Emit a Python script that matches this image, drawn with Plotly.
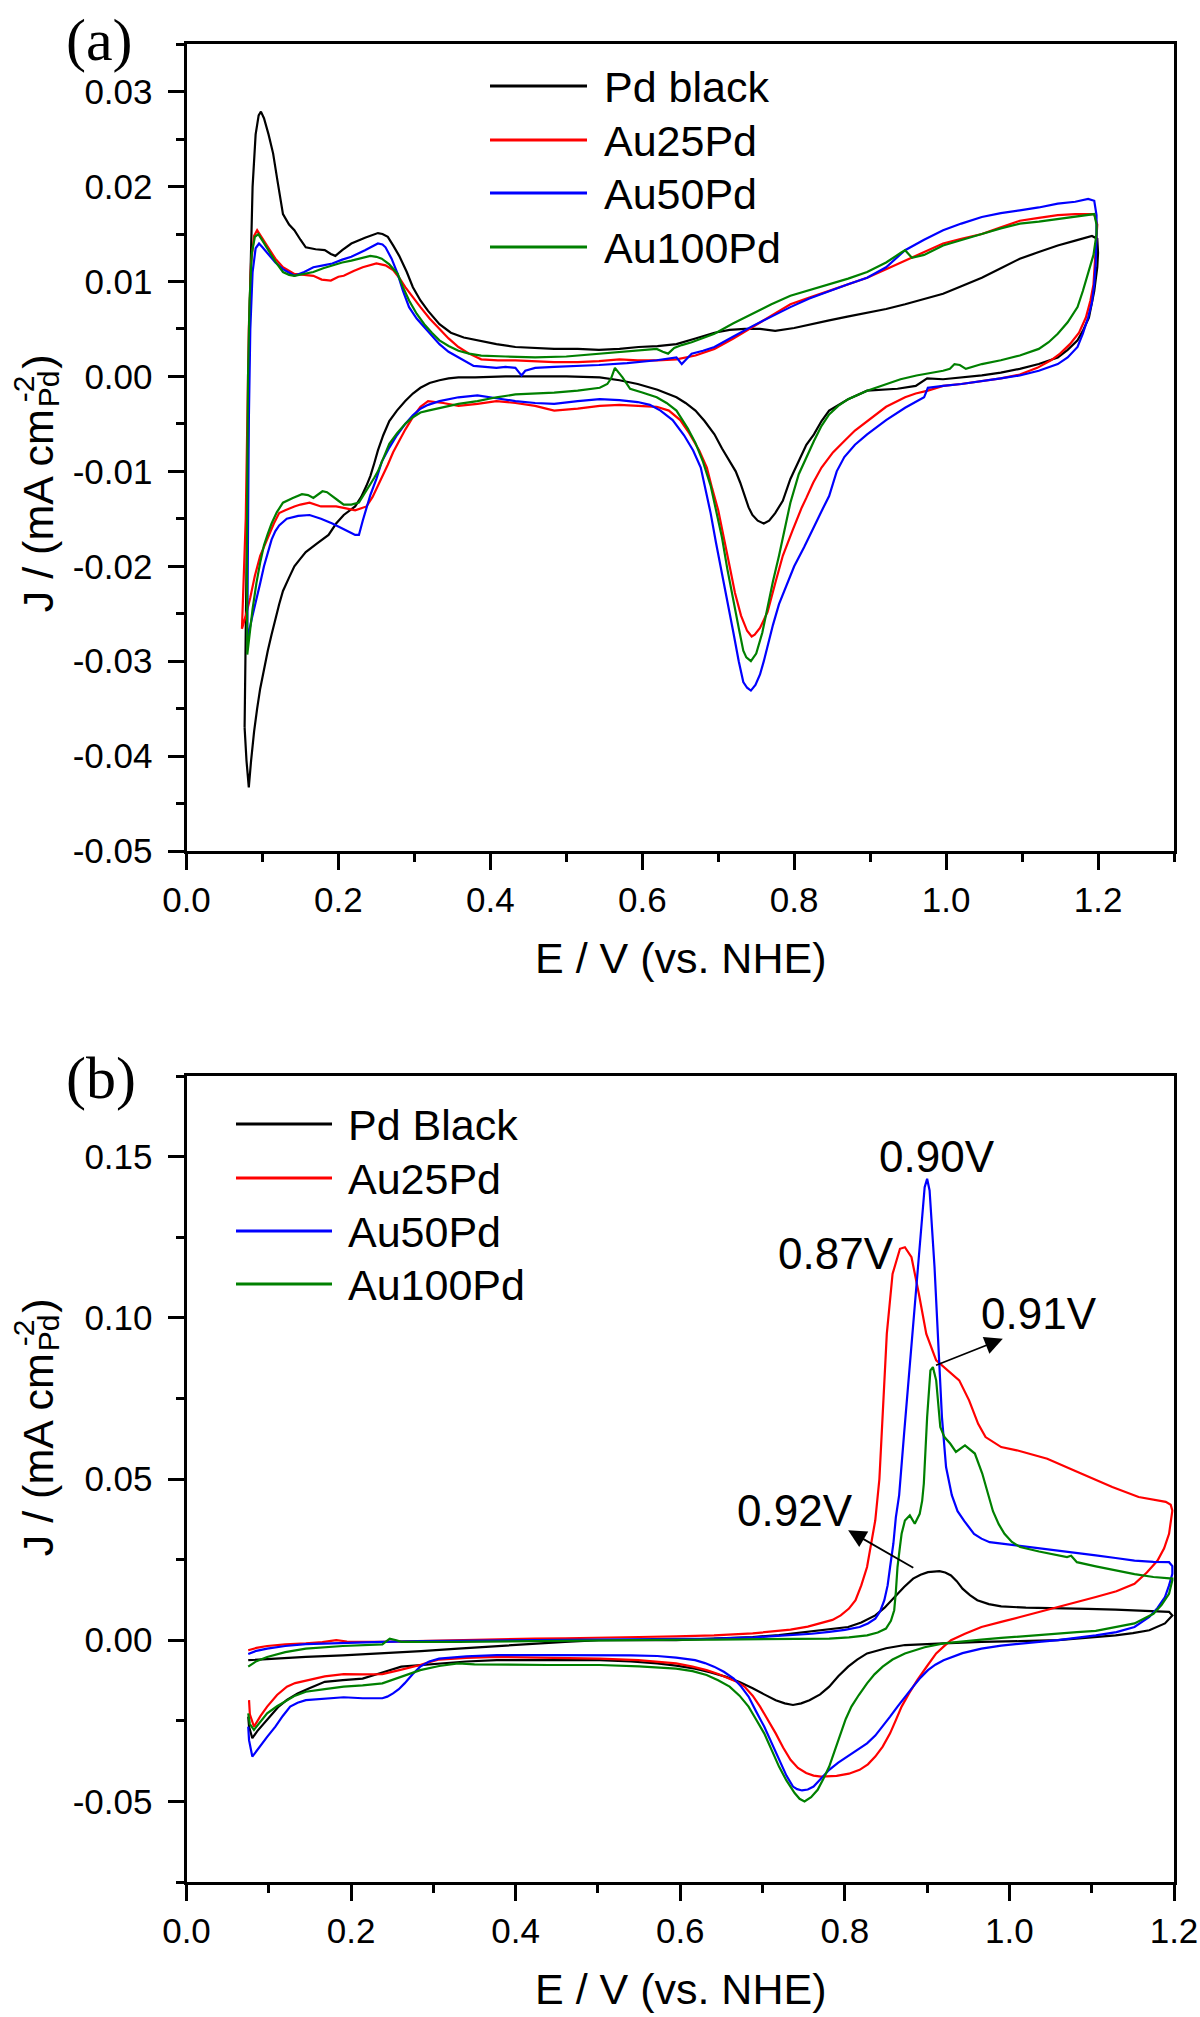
import plotly.graph_objects as go

# ---------------- data: panel (a) ----------------
a_pdblack = [
    (0.0765, -0.037), (0.078, -0.025), (0.080, -0.010), (0.082, 0.000), (0.084, 0.010), (0.087, 0.020),
    (0.091, 0.0255), (0.095, 0.0275), (0.098, 0.0279), (0.102, 0.0272), (0.108, 0.0255), (0.114, 0.0235),
    (0.120, 0.0205), (0.127, 0.0171), (0.135, 0.0160), (0.142, 0.0154), (0.150, 0.0144), (0.157, 0.0136),
    (0.170, 0.0134), (0.182, 0.0133), (0.190, 0.0129), (0.196, 0.0127), (0.205, 0.0133), (0.217, 0.0140),
    (0.235, 0.0146), (0.252, 0.0151), (0.258, 0.0150), (0.265, 0.0147), (0.272, 0.0138), (0.280, 0.0127),
    (0.290, 0.0110), (0.298, 0.0094), (0.308, 0.0080), (0.318, 0.0069), (0.333, 0.0055), (0.348, 0.0046),
    (0.365, 0.0041), (0.383, 0.0038), (0.408, 0.0034), (0.433, 0.0031), (0.460, 0.0030), (0.484, 0.0029),
    (0.515, 0.0029), (0.543, 0.0028), (0.570, 0.0029), (0.595, 0.0031), (0.620, 0.0032), (0.645, 0.0034),
    (0.670, 0.0040), (0.695, 0.0046), (0.715, 0.0049), (0.735, 0.0050), (0.755, 0.0050), (0.775, 0.0048),
    (0.800, 0.0051), (0.825, 0.0055), (0.846, 0.0059), (0.870, 0.0063), (0.895, 0.0067), (0.921, 0.0071),
    (0.946, 0.0076), (0.970, 0.0081), (0.996, 0.0087), (1.020, 0.0095), (1.047, 0.0104), (1.072, 0.0114),
    (1.097, 0.0124), (1.122, 0.0131), (1.147, 0.0138), (1.170, 0.0143), (1.192, 0.0148), (1.199, 0.0145),
    (1.200, 0.0130), (1.199, 0.0115), (1.195, 0.0090), (1.188, 0.0062), (1.180, 0.0048), (1.173, 0.0038),
    (1.160, 0.0028), (1.147, 0.0020), (1.122, 0.0013), (1.097, 0.0008), (1.072, 0.0004), (1.047, 0.0001),
    (1.020, -0.0001), (0.996, -0.0003), (0.975, -0.0002), (0.960, -0.0010), (0.936, -0.0013), (0.916, -0.0014),
    (0.896, -0.0015), (0.871, -0.0024), (0.846, -0.0036), (0.836, -0.0047), (0.826, -0.0061), (0.816, -0.0072),
    (0.806, -0.0090), (0.795, -0.0108), (0.785, -0.0131), (0.775, -0.0144), (0.767, -0.0152), (0.760, -0.0155),
    (0.752, -0.0152), (0.745, -0.0146), (0.740, -0.0138), (0.735, -0.0126), (0.729, -0.0112), (0.723, -0.0100),
    (0.714, -0.0088), (0.705, -0.0076), (0.695, -0.0061), (0.682, -0.0047), (0.670, -0.0036), (0.657, -0.0028),
    (0.645, -0.0022), (0.620, -0.0014), (0.594, -0.0008), (0.570, -0.0004), (0.544, -0.0001), (0.500, 0.0),
    (0.459, 0.0), (0.420, 0.0), (0.380, -0.0001), (0.358, -0.0001), (0.345, -0.0002), (0.333, -0.0004),
    (0.320, -0.0007), (0.308, -0.0012), (0.298, -0.0018), (0.288, -0.0026), (0.277, -0.0036), (0.267, -0.0047),
    (0.259, -0.0062), (0.252, -0.0078), (0.247, -0.0092), (0.242, -0.0105), (0.237, -0.0115), (0.230, -0.0127),
    (0.222, -0.0137), (0.215, -0.0141), (0.207, -0.0146), (0.197, -0.0155), (0.187, -0.0167), (0.172, -0.0176),
    (0.157, -0.0185), (0.150, -0.0192), (0.142, -0.0200), (0.135, -0.0212), (0.127, -0.0226), (0.122, -0.0240),
    (0.117, -0.0255), (0.112, -0.0272), (0.107, -0.0289), (0.102, -0.0309), (0.097, -0.0329), (0.093, -0.0350),
    (0.089, -0.0374), (0.085, -0.0405), (0.082, -0.0433), (0.079, -0.0405), (0.0765, -0.037),
]

a_au25 = [
    (0.073, -0.0266), (0.078, -0.015), (0.080, -0.005), (0.082, 0.005), (0.085, 0.012), (0.089, 0.0148),
    (0.093, 0.0154), (0.098, 0.0148), (0.107, 0.0136), (0.117, 0.0124), (0.127, 0.0115), (0.142, 0.0108),
    (0.155, 0.0107), (0.167, 0.0106), (0.178, 0.0102), (0.190, 0.0101), (0.200, 0.0105), (0.207, 0.0106),
    (0.220, 0.0111), (0.232, 0.0115), (0.250, 0.0119), (0.262, 0.0117), (0.272, 0.0112), (0.280, 0.0104),
    (0.288, 0.0094), (0.298, 0.0083), (0.308, 0.0073), (0.320, 0.0061), (0.333, 0.0050), (0.345, 0.0040),
    (0.358, 0.0031), (0.372, 0.0024), (0.388, 0.0018), (0.410, 0.0017), (0.433, 0.0017), (0.460, 0.0016),
    (0.484, 0.0015), (0.515, 0.0015), (0.543, 0.0016), (0.570, 0.0018), (0.594, 0.0017), (0.620, 0.0017),
    (0.645, 0.0018), (0.670, 0.0022), (0.695, 0.0029), (0.720, 0.0040), (0.745, 0.0052), (0.770, 0.0064),
    (0.795, 0.0076), (0.820, 0.0083), (0.846, 0.0090), (0.871, 0.0097), (0.896, 0.0104), (0.921, 0.0113),
    (0.946, 0.0122), (0.971, 0.0131), (0.996, 0.0140), (1.020, 0.0145), (1.047, 0.0150), (1.072, 0.0157),
    (1.097, 0.0164), (1.122, 0.0167), (1.147, 0.0170), (1.170, 0.0171), (1.195, 0.0171),
    (1.199, 0.0160), (1.198, 0.0145), (1.196, 0.0120), (1.194, 0.0097), (1.190, 0.0080), (1.184, 0.0062),
    (1.175, 0.0046), (1.163, 0.0034), (1.150, 0.0024), (1.138, 0.0017), (1.120, 0.0009), (1.097, 0.0002),
    (1.072, -0.0002), (1.047, -0.0005), (1.020, -0.0008), (0.996, -0.0010), (0.976, -0.0015), (0.960, -0.0018),
    (0.946, -0.0022), (0.921, -0.0032), (0.896, -0.0047), (0.880, -0.0057), (0.866, -0.0068), (0.851, -0.0080),
    (0.836, -0.0096), (0.825, -0.0112), (0.816, -0.0128), (0.810, -0.0138), (0.798, -0.0162), (0.785, -0.0189),
    (0.775, -0.0218), (0.765, -0.0248), (0.755, -0.0265), (0.748, -0.0272), (0.744, -0.0274), (0.738, -0.0268),
    (0.730, -0.0252), (0.722, -0.0228), (0.715, -0.0200), (0.707, -0.0170), (0.700, -0.0141), (0.692, -0.0118),
    (0.685, -0.0096), (0.675, -0.0078), (0.662, -0.0060), (0.650, -0.0046), (0.635, -0.0036), (0.619, -0.0032),
    (0.594, -0.0031), (0.570, -0.0030), (0.544, -0.0031), (0.515, -0.0034), (0.484, -0.0036), (0.459, -0.0031),
    (0.433, -0.0028), (0.408, -0.0026), (0.383, -0.0029), (0.358, -0.0031), (0.338, -0.0028), (0.318, -0.0026),
    (0.308, -0.0032), (0.298, -0.0043), (0.288, -0.0056), (0.278, -0.0071), (0.272, -0.0080), (0.265, -0.0093),
    (0.257, -0.0106), (0.252, -0.0115), (0.245, -0.0127), (0.237, -0.0137), (0.222, -0.0141), (0.210, -0.0139),
    (0.197, -0.0137), (0.177, -0.0137), (0.162, -0.0133), (0.150, -0.0135), (0.142, -0.0137), (0.130, -0.0141),
    (0.122, -0.0144), (0.115, -0.0155), (0.107, -0.0170), (0.102, -0.0180), (0.097, -0.0189), (0.090, -0.0210),
    (0.084, -0.0233), (0.078, -0.0252), (0.073, -0.0266),
]

a_au50 = [
    (0.080, -0.0275), (0.081, -0.015), (0.082, -0.005), (0.084, 0.005), (0.087, 0.011), (0.091, 0.0135),
    (0.0955, 0.0140), (0.100, 0.0136), (0.107, 0.0129), (0.117, 0.0120), (0.127, 0.0113), (0.135, 0.0109),
    (0.142, 0.0106), (0.155, 0.0110), (0.167, 0.0115), (0.180, 0.0117), (0.192, 0.0119), (0.205, 0.0123),
    (0.217, 0.0126), (0.235, 0.0133), (0.252, 0.0140), (0.258, 0.0139), (0.262, 0.0136), (0.270, 0.0124),
    (0.278, 0.0108), (0.285, 0.0090), (0.293, 0.0073), (0.303, 0.0061), (0.313, 0.0052), (0.323, 0.0042),
    (0.333, 0.0034), (0.345, 0.0026), (0.358, 0.0020), (0.368, 0.0015), (0.378, 0.0011), (0.393, 0.0010),
    (0.408, 0.0009), (0.420, 0.0010), (0.433, 0.0009), (0.438, 0.0004), (0.441, 0.0001), (0.446, 0.0006),
    (0.459, 0.0009), (0.484, 0.0010), (0.515, 0.0011), (0.543, 0.0012), (0.580, 0.0014), (0.619, 0.0017),
    (0.645, 0.0020), (0.652, 0.0013), (0.658, 0.0018), (0.665, 0.0024), (0.680, 0.0027), (0.695, 0.0031),
    (0.720, 0.0042), (0.745, 0.0053), (0.770, 0.0063), (0.795, 0.0073), (0.820, 0.0082), (0.846, 0.0090),
    (0.871, 0.0097), (0.896, 0.0104), (0.921, 0.0115), (0.946, 0.0133), (0.971, 0.0144), (0.996, 0.0154),
    (1.020, 0.0161), (1.047, 0.0168), (1.072, 0.0172), (1.097, 0.0175), (1.122, 0.0178), (1.147, 0.0182),
    (1.170, 0.0184), (1.187, 0.0187), (1.195, 0.0185),
    (1.198, 0.0170), (1.198, 0.0150), (1.197, 0.0120), (1.195, 0.0097), (1.192, 0.0078), (1.187, 0.0062),
    (1.180, 0.0045), (1.173, 0.0031), (1.160, 0.0020), (1.147, 0.0013), (1.122, 0.0006), (1.097, 0.0001),
    (1.072, -0.0002), (1.047, -0.0005), (1.020, -0.0008), (0.996, -0.0010), (0.976, -0.0012), (0.971, -0.0022),
    (0.960, -0.0027), (0.946, -0.0033), (0.921, -0.0046), (0.896, -0.0061), (0.880, -0.0072), (0.866, -0.0085),
    (0.856, -0.0100), (0.846, -0.0126), (0.836, -0.0142), (0.826, -0.0159), (0.813, -0.0180), (0.800, -0.0200),
    (0.790, -0.0220), (0.780, -0.0240), (0.772, -0.0262), (0.765, -0.0285), (0.760, -0.0300), (0.755, -0.0314),
    (0.749, -0.0325), (0.743, -0.0331), (0.738, -0.0328), (0.733, -0.0322), (0.727, -0.0300), (0.720, -0.0270),
    (0.712, -0.0238), (0.705, -0.0207), (0.697, -0.0175), (0.690, -0.0144), (0.683, -0.0118), (0.677, -0.0096),
    (0.667, -0.0078), (0.655, -0.0062), (0.640, -0.0046), (0.624, -0.0036), (0.610, -0.0030), (0.594, -0.0027),
    (0.570, -0.0025), (0.544, -0.0024), (0.515, -0.0026), (0.484, -0.0029), (0.459, -0.0028), (0.433, -0.0026),
    (0.408, -0.0023), (0.383, -0.0020), (0.358, -0.0022), (0.333, -0.0026), (0.318, -0.0030), (0.308, -0.0034),
    (0.298, -0.0041), (0.288, -0.0050), (0.277, -0.0062), (0.267, -0.0075), (0.257, -0.0090), (0.250, -0.0108),
    (0.242, -0.0125), (0.236, -0.0140), (0.232, -0.0152), (0.227, -0.0167), (0.222, -0.0167), (0.217, -0.0165),
    (0.207, -0.0161), (0.192, -0.0155), (0.177, -0.0150), (0.162, -0.0146), (0.147, -0.0147), (0.132, -0.0150),
    (0.122, -0.0157), (0.117, -0.0163), (0.112, -0.0172), (0.107, -0.0185), (0.102, -0.0200), (0.097, -0.0218),
    (0.091, -0.0237), (0.086, -0.0255), (0.081, -0.0274),
]

a_au100 = [
    (0.080, -0.0293), (0.0795, -0.020), (0.080, -0.010), (0.081, 0.000), (0.083, 0.008), (0.086, 0.013),
    (0.090, 0.0147), (0.0945, 0.0150), (0.100, 0.0143), (0.107, 0.0134), (0.117, 0.0121), (0.127, 0.0110),
    (0.135, 0.0107), (0.142, 0.0106), (0.155, 0.0108), (0.167, 0.0110), (0.180, 0.0114), (0.192, 0.0117),
    (0.205, 0.0120), (0.217, 0.0122), (0.230, 0.0125), (0.242, 0.0127), (0.250, 0.0126), (0.257, 0.0124),
    (0.267, 0.0118), (0.278, 0.0108), (0.285, 0.0094), (0.293, 0.0080), (0.303, 0.0066), (0.313, 0.0055),
    (0.323, 0.0046), (0.333, 0.0038), (0.345, 0.0032), (0.358, 0.0027), (0.372, 0.0024), (0.388, 0.0022),
    (0.420, 0.0021), (0.459, 0.0020), (0.500, 0.0021), (0.543, 0.0024), (0.580, 0.0026), (0.619, 0.0029),
    (0.627, 0.0026), (0.634, 0.0024), (0.642, 0.0030), (0.652, 0.0033), (0.665, 0.0036), (0.695, 0.0045),
    (0.720, 0.0056), (0.745, 0.0066), (0.770, 0.0076), (0.795, 0.0085), (0.820, 0.0091), (0.846, 0.0097),
    (0.871, 0.0103), (0.896, 0.0110), (0.921, 0.0120), (0.940, 0.0130), (0.946, 0.0133), (0.955, 0.0125),
    (0.971, 0.0128), (0.996, 0.0138), (1.020, 0.0144), (1.047, 0.0150), (1.072, 0.0156), (1.097, 0.0161),
    (1.122, 0.0163), (1.147, 0.0166), (1.170, 0.0168), (1.195, 0.0171),
    (1.198, 0.0160), (1.198, 0.0150), (1.194, 0.0128), (1.187, 0.0108), (1.180, 0.0090), (1.173, 0.0073),
    (1.160, 0.0057), (1.147, 0.0045), (1.135, 0.0036), (1.122, 0.0029), (1.097, 0.0022), (1.072, 0.0017),
    (1.047, 0.0013), (1.026, 0.0008), (1.018, 0.0012), (1.011, 0.0013), (1.005, 0.0008), (0.996, 0.0006),
    (0.980, 0.0004), (0.961, 0.0001), (0.940, -0.0003), (0.921, -0.0008), (0.896, -0.0015), (0.871, -0.0024),
    (0.858, -0.0031), (0.846, -0.0040), (0.836, -0.0052), (0.826, -0.0068), (0.820, -0.0078), (0.806, -0.0103),
    (0.795, -0.0133), (0.788, -0.0160), (0.780, -0.0189), (0.772, -0.0216), (0.765, -0.0244), (0.758, -0.0270),
    (0.750, -0.0292), (0.743, -0.0300), (0.737, -0.0296), (0.733, -0.0289), (0.727, -0.0265), (0.720, -0.0237),
    (0.712, -0.0203), (0.705, -0.0170), (0.697, -0.0140), (0.690, -0.0115), (0.680, -0.0090), (0.670, -0.0070),
    (0.660, -0.0055), (0.645, -0.0036), (0.632, -0.0028), (0.619, -0.0022), (0.600, -0.0017), (0.584, -0.0013),
    (0.574, -0.0001), (0.567, 0.0006), (0.564, 0.0009), (0.559, -0.0002), (0.554, -0.0008), (0.544, -0.0012),
    (0.515, -0.0015), (0.484, -0.0017), (0.459, -0.0018), (0.433, -0.0019), (0.408, -0.0022), (0.383, -0.0026),
    (0.358, -0.0029), (0.333, -0.0033), (0.318, -0.0036), (0.308, -0.0038), (0.298, -0.0043), (0.288, -0.0050),
    (0.277, -0.0060), (0.267, -0.0071), (0.257, -0.0090), (0.252, -0.0100), (0.247, -0.0107), (0.237, -0.0120),
    (0.227, -0.0133), (0.217, -0.0135), (0.207, -0.0135), (0.200, -0.0131), (0.192, -0.0126), (0.185, -0.0122),
    (0.179, -0.0121), (0.172, -0.0125), (0.167, -0.0128), (0.160, -0.0125), (0.152, -0.0124), (0.140, -0.0128),
    (0.127, -0.0133), (0.119, -0.0143), (0.112, -0.0155), (0.107, -0.0166), (0.102, -0.0178), (0.097, -0.0196),
    (0.092, -0.0218), (0.087, -0.0245), (0.083, -0.0275), (0.080, -0.0293),
]

# ---------------- data: panel (b) ----------------
b_pdblack = [
    (0.075, -0.0062), (0.100, -0.0058), (0.145, -0.0052), (0.190, -0.0047), (0.238, -0.0041), (0.285, -0.0034),
    (0.330, -0.0026), (0.377, -0.0018), (0.423, -0.0010), (0.460, -0.0005), (0.501, 0.0), (0.550, 0.0),
    (0.595, 0.0), (0.640, 0.0005), (0.688, 0.0010), (0.720, 0.0016), (0.757, 0.0026), (0.780, 0.0033),
    (0.804, 0.0041), (0.820, 0.0055), (0.837, 0.0077), (0.848, 0.0100), (0.860, 0.0134), (0.872, 0.0165),
    (0.883, 0.0191), (0.892, 0.0203), (0.901, 0.0211), (0.915, 0.0214), (0.922, 0.0210), (0.929, 0.0201),
    (0.936, 0.0183), (0.943, 0.0160), (0.952, 0.0140), (0.961, 0.0124), (0.975, 0.0112), (0.990, 0.0105),
    (1.020, 0.0101), (1.059, 0.0098), (1.095, 0.0097), (1.129, 0.0095), (1.160, 0.0092), (1.194, 0.0088),
    (1.198, 0.0077),
    (1.189, 0.0052), (1.170, 0.0031), (1.150, 0.0022), (1.129, 0.0015), (1.095, 0.0008), (1.059, 0.0),
    (1.013, -0.0003), (0.966, -0.0005), (0.920, -0.0010), (0.873, -0.0015), (0.850, -0.0025), (0.827, -0.0041),
    (0.815, -0.0060), (0.804, -0.0082), (0.792, -0.0112), (0.781, -0.0144), (0.770, -0.0168), (0.757, -0.0186),
    (0.747, -0.0196), (0.737, -0.0201), (0.727, -0.0196), (0.716, -0.0186), (0.702, -0.0168), (0.688, -0.0149),
    (0.672, -0.0130), (0.655, -0.0113), (0.637, -0.0100), (0.618, -0.0088), (0.595, -0.0079), (0.572, -0.0072),
    (0.540, -0.0066), (0.502, -0.0062), (0.440, -0.0062), (0.377, -0.0062), (0.340, -0.0066), (0.307, -0.0072),
    (0.284, -0.0077), (0.261, -0.0082), (0.238, -0.0100), (0.214, -0.0119), (0.190, -0.0124), (0.168, -0.0129),
    (0.150, -0.0148), (0.135, -0.0165), (0.122, -0.0185), (0.112, -0.0206), (0.103, -0.0232), (0.094, -0.0258),
    (0.086, -0.0282), (0.080, -0.0304), (0.076, -0.0268), (0.075, -0.0237),
]

b_au25 = [
    (0.075, -0.0031), (0.085, -0.0024), (0.098, -0.0018), (0.120, -0.0013), (0.145, -0.0010), (0.165, -0.0006),
    (0.182, 0.0), (0.195, -0.0004), (0.238, -0.0005), (0.285, -0.0002), (0.330, 0.0), (0.377, 0.0003),
    (0.423, 0.0005), (0.460, 0.0006), (0.501, 0.0007), (0.550, 0.0010), (0.595, 0.0012), (0.641, 0.0015),
    (0.688, 0.0021), (0.710, 0.0026), (0.734, 0.0033), (0.755, 0.0042), (0.771, 0.0052), (0.785, 0.0063),
    (0.795, 0.0077), (0.805, 0.0098), (0.813, 0.0124), (0.820, 0.0170), (0.827, 0.0227), (0.832, 0.0300),
    (0.837, 0.0372), (0.842, 0.0500), (0.845, 0.0640), (0.851, 0.0950), (0.858, 0.1136), (0.867, 0.1214),
    (0.873, 0.1219), (0.881, 0.1188), (0.890, 0.1074), (0.899, 0.0950), (0.911, 0.0868), (0.925, 0.0837),
    (0.939, 0.0806), (0.951, 0.0744), (0.962, 0.0671), (0.971, 0.0630), (0.990, 0.0599), (1.009, 0.0589),
    (1.046, 0.0563), (1.078, 0.0527), (1.125, 0.0475), (1.157, 0.0444), (1.190, 0.0429), (1.196, 0.0420),
    (1.198, 0.0402), (1.194, 0.0330), (1.188, 0.0285), (1.180, 0.0247), (1.167, 0.0210), (1.152, 0.0175),
    (1.130, 0.0152), (1.105, 0.0134), (1.082, 0.0118), (1.059, 0.0103), (1.036, 0.0088), (1.013, 0.0072),
    (0.990, 0.0057), (0.966, 0.0041), (0.946, 0.0020), (0.929, 0.0), (0.920, -0.0020), (0.911, -0.0041),
    (0.900, -0.0080), (0.888, -0.0124), (0.878, -0.0165), (0.869, -0.0206), (0.862, -0.0248), (0.855, -0.0289),
    (0.846, -0.0330), (0.837, -0.0361), (0.828, -0.0385), (0.818, -0.0402), (0.805, -0.0414), (0.790, -0.0421),
    (0.771, -0.0423), (0.762, -0.0420), (0.753, -0.0412), (0.743, -0.0396), (0.734, -0.0371), (0.725, -0.0333),
    (0.716, -0.0289), (0.706, -0.0245), (0.697, -0.0206), (0.688, -0.0172), (0.678, -0.0144), (0.668, -0.0128),
    (0.660, -0.0119), (0.646, -0.0105), (0.632, -0.0093), (0.615, -0.0082), (0.595, -0.0072), (0.572, -0.0066),
    (0.549, -0.0062), (0.502, -0.0057), (0.440, -0.0055), (0.377, -0.0052), (0.340, -0.0055), (0.307, -0.0060),
    (0.295, -0.0068), (0.284, -0.0077), (0.260, -0.0092), (0.238, -0.0105), (0.214, -0.0106), (0.191, -0.0105),
    (0.168, -0.0112), (0.145, -0.0124), (0.132, -0.0133), (0.122, -0.0144), (0.110, -0.0170), (0.098, -0.0206),
    (0.090, -0.0235), (0.082, -0.0268), (0.077, -0.0230), (0.076, -0.0186),
]

b_au50 = [
    (0.075, -0.0043), (0.085, -0.0033), (0.098, -0.0026), (0.120, -0.0018), (0.145, -0.0012), (0.190, -0.0008),
    (0.238, -0.0005), (0.285, -0.0003), (0.330, -0.0002), (0.420, -0.0001), (0.501, 0.0), (0.570, 0.0002),
    (0.641, 0.0005), (0.690, 0.0009), (0.734, 0.0015), (0.760, 0.0020), (0.781, 0.0026), (0.800, 0.0032),
    (0.818, 0.0041), (0.828, 0.0052), (0.837, 0.0067), (0.843, 0.0090), (0.848, 0.0124), (0.852, 0.0170),
    (0.855, 0.0227), (0.859, 0.0300), (0.862, 0.0381), (0.866, 0.0450), (0.872, 0.0640), (0.879, 0.0847),
    (0.886, 0.1054), (0.893, 0.1260), (0.897, 0.1405), (0.900, 0.1431), (0.903, 0.1395), (0.909, 0.1157),
    (0.914, 0.0899), (0.918, 0.0692), (0.923, 0.0537), (0.930, 0.0450), (0.937, 0.0400), (0.945, 0.0370),
    (0.957, 0.0330), (0.966, 0.0315), (0.976, 0.0304), (0.995, 0.0298), (1.013, 0.0294), (1.036, 0.0287),
    (1.059, 0.0278), (1.082, 0.0271), (1.105, 0.0263), (1.129, 0.0255), (1.152, 0.0247), (1.175, 0.0243),
    (1.194, 0.0242), (1.198, 0.0230),
    (1.198, 0.0206), (1.194, 0.0170), (1.189, 0.0134), (1.180, 0.0100), (1.170, 0.0072), (1.152, 0.0041),
    (1.130, 0.0025), (1.105, 0.0015), (1.082, 0.0007), (1.059, 0.0), (1.036, -0.0005), (1.013, -0.0010),
    (0.990, -0.0017), (0.966, -0.0026), (0.943, -0.0040), (0.920, -0.0062), (0.910, -0.0076), (0.901, -0.0093),
    (0.892, -0.0116), (0.883, -0.0144), (0.873, -0.0175), (0.864, -0.0206), (0.855, -0.0237), (0.846, -0.0268),
    (0.837, -0.0296), (0.827, -0.0320), (0.815, -0.0340), (0.804, -0.0361), (0.792, -0.0380), (0.781, -0.0402),
    (0.772, -0.0428), (0.762, -0.0454), (0.755, -0.0463), (0.748, -0.0466), (0.742, -0.0462), (0.737, -0.0454),
    (0.729, -0.0420), (0.720, -0.0371), (0.711, -0.0318), (0.702, -0.0268), (0.692, -0.0220), (0.683, -0.0175),
    (0.674, -0.0144), (0.665, -0.0119), (0.653, -0.0098), (0.641, -0.0082), (0.630, -0.0071), (0.618, -0.0062),
    (0.595, -0.0054), (0.572, -0.0049), (0.540, -0.0047), (0.502, -0.0046), (0.440, -0.0046), (0.377, -0.0046),
    (0.340, -0.0050), (0.307, -0.0057), (0.295, -0.0066), (0.284, -0.0082), (0.275, -0.0105), (0.265, -0.0134),
    (0.258, -0.0152), (0.251, -0.0165), (0.244, -0.0175), (0.238, -0.0180), (0.214, -0.0180), (0.191, -0.0177),
    (0.168, -0.0181), (0.145, -0.0186), (0.135, -0.0194), (0.126, -0.0206), (0.117, -0.0235), (0.108, -0.0268),
    (0.098, -0.0300), (0.089, -0.0330), (0.080, -0.0361), (0.076, -0.0310), (0.075, -0.0268),
]

b_au100 = [
    (0.075, -0.0082), (0.085, -0.0065), (0.098, -0.0052), (0.120, -0.0037), (0.145, -0.0026), (0.190, -0.0018),
    (0.238, -0.0013), (0.247, 0.0005), (0.255, 0.0000), (0.261, -0.0005), (0.330, -0.0005), (0.420, -0.0002),
    (0.501, 0.0), (0.570, 0.0001), (0.641, 0.0002), (0.710, 0.0003), (0.781, 0.0005), (0.805, 0.0009),
    (0.827, 0.0015), (0.840, 0.0024), (0.850, 0.0036), (0.856, 0.0060), (0.860, 0.0093), (0.862, 0.0150),
    (0.864, 0.0227), (0.867, 0.0290), (0.869, 0.0330), (0.873, 0.0371), (0.879, 0.0387), (0.885, 0.0361),
    (0.891, 0.0392), (0.894, 0.0433), (0.896, 0.0486), (0.900, 0.0692), (0.904, 0.0837), (0.907, 0.0847),
    (0.911, 0.0806), (0.916, 0.0661), (0.921, 0.0630), (0.928, 0.0610), (0.935, 0.0584), (0.946, 0.0604),
    (0.958, 0.0579), (0.967, 0.0517), (0.974, 0.0450), (0.980, 0.0400), (0.987, 0.0360), (0.994, 0.0330),
    (1.003, 0.0305), (1.013, 0.0289), (1.036, 0.0275), (1.059, 0.0263), (1.070, 0.0258), (1.075, 0.0262),
    (1.082, 0.0242), (1.105, 0.0229), (1.129, 0.0216), (1.152, 0.0205), (1.175, 0.0196), (1.198, 0.0191),
    (1.198, 0.0186), (1.194, 0.0144), (1.185, 0.0110), (1.175, 0.0082), (1.152, 0.0052), (1.129, 0.0040),
    (1.105, 0.0029), (1.082, 0.0025), (1.059, 0.0021), (1.036, 0.0016), (1.013, 0.0012), (0.990, 0.0007),
    (0.966, 0.0002), (0.943, -0.0004), (0.920, -0.0010), (0.897, -0.0022), (0.873, -0.0041), (0.858, -0.0060),
    (0.846, -0.0082), (0.836, -0.0106), (0.827, -0.0134), (0.817, -0.0170), (0.808, -0.0206), (0.801, -0.0245),
    (0.795, -0.0289), (0.788, -0.0340), (0.781, -0.0392), (0.774, -0.0430), (0.767, -0.0464), (0.759, -0.0487),
    (0.751, -0.0500), (0.745, -0.0492), (0.739, -0.0474), (0.729, -0.0435), (0.720, -0.0392), (0.711, -0.0340),
    (0.702, -0.0289), (0.692, -0.0245), (0.683, -0.0206), (0.672, -0.0172), (0.660, -0.0144), (0.646, -0.0124),
    (0.632, -0.0108), (0.615, -0.0096), (0.595, -0.0088), (0.550, -0.0081), (0.502, -0.0077), (0.440, -0.0077),
    (0.377, -0.0077), (0.350, -0.0075), (0.330, -0.0072), (0.307, -0.0080), (0.284, -0.0093), (0.261, -0.0113),
    (0.238, -0.0134), (0.214, -0.0140), (0.191, -0.0144), (0.168, -0.0152), (0.145, -0.0160), (0.132, -0.0172),
    (0.122, -0.0186), (0.110, -0.0205), (0.098, -0.0227), (0.090, -0.0252), (0.082, -0.0278), (0.077, -0.0260),
    (0.075, -0.0227),
]

# names, colours, tick labels
names_a = ["Pd black", "Au25Pd", "Au50Pd", "Au100Pd"]
names_b = ["Pd Black", "Au25Pd", "Au50Pd", "Au100Pd"]
colors = ["#000000", "#ff0000", "#0000ff", "#008000"]

xa_tickvals = [0.0, 0.2, 0.4, 0.6, 0.8, 1.0, 1.2]
xa_ticktext = ["0.0", "0.2", "0.4", "0.6", "0.8", "1.0", "1.2"]
ya_tickvals = [-0.05, -0.04, -0.03, -0.02, -0.01, 0.0, 0.01, 0.02, 0.03]
ya_ticktext = ["-0.05", "-0.04", "-0.03", "-0.02", "-0.01", "0.00", "0.01", "0.02", "0.03"]
yb_tickvals = [-0.05, 0.0, 0.05, 0.10, 0.15]
yb_ticktext = ["-0.05", "0.00", "0.05", "0.10", "0.15"]

# peak labels (b): text, x, y, anchor
peak_labels = [("0.90V", 0.912, 0.150, "center"), ("0.87V", 0.862, 0.1198, "right"),
               ("0.91V", 1.036, 0.1012, "center"), ("0.92V", 0.739, 0.0402, "center")]
# arrows (b): head (x, y), tail (x, y)
peak_arrows = [((0.992, 0.0935), (0.909, 0.0851)), ((0.804, 0.0341), (0.885, 0.0222))]

# ---------------- figure ----------------
W, H = 1200, 2017
SANS = "Liberation Sans, Arial, Helvetica, sans-serif"
SERIF = "Liberation Serif, Times New Roman, serif"


def px(x):
    return x / W


def py(y):
    return 1 - y / H


fig = go.Figure()
for data, nm, col in zip([a_pdblack, a_au25, a_au50, a_au100], names_a, colors):
    fig.add_trace(go.Scatter(x=[p[0] for p in data], y=[p[1] for p in data], mode="lines", name=nm,
                             line=dict(color=col, width=2.2), xaxis="x", yaxis="y", showlegend=False))
for data, nm, col in zip([b_pdblack, b_au25, b_au50, b_au100], names_b, colors):
    fig.add_trace(go.Scatter(x=[p[0] for p in data], y=[p[1] for p in data], mode="lines", name=nm,
                             line=dict(color=col, width=2.2), xaxis="x2", yaxis="y2", showlegend=False))

ax_common = dict(showgrid=False, zeroline=False, showline=True, linecolor="black", linewidth=3,
                 mirror=True, ticks="outside", ticklen=16, tickwidth=2.5, tickcolor="black",
                 automargin=False,
                 tickfont=dict(family=SANS, size=35, color="black"))
XDOM = [px(186.5), px(1174)]
MINOR = dict(ticks="outside", ticklen=8, tickwidth=2.5, tickcolor="black")

fig.update_layout(
    template="none",
    width=W, height=H, autosize=False, margin=dict(l=0, r=0, t=0, b=0, pad=0),
    paper_bgcolor="white", plot_bgcolor="white", showlegend=False,
    xaxis=dict(domain=XDOM, range=[0, 1.3], anchor="y", tickvals=xa_tickvals, ticktext=xa_ticktext,
               minor=dict(dtick=0.1, tick0=0, **MINOR), **ax_common),
    yaxis=dict(domain=[py(851), py(44.2)], range=[-0.05, 0.035], anchor="x", tickvals=ya_tickvals,
               ticktext=ya_ticktext, ticklabelstandoff=8,
               minor=dict(dtick=0.005, tick0=0, **MINOR), **ax_common),
    xaxis2=dict(domain=XDOM, range=[0, 1.2], anchor="y2", tickvals=xa_tickvals, ticktext=xa_ticktext,
                minor=dict(dtick=0.1, tick0=0, **MINOR), **ax_common),
    yaxis2=dict(domain=[py(1882), py(1076)], range=[-0.075, 0.175], anchor="x2", tickvals=yb_tickvals,
                ticktext=yb_ticktext, ticklabelstandoff=8,
                minor=dict(dtick=0.025, tick0=0, **MINOR), **ax_common),
)

annotations = []
shapes = []

# panel labels
annotations.append(dict(text="(a)", x=px(99), y=py(40), xref="paper", yref="paper", showarrow=False,
                        font=dict(family=SERIF, size=60, color="black"), xanchor="center", yanchor="middle"))
annotations.append(dict(text="(b)", x=px(101), y=py(1078), xref="paper", yref="paper", showarrow=False,
                        font=dict(family=SERIF, size=60, color="black"), xanchor="center", yanchor="middle"))

# x axis titles
for yc in (958, 1989):
    annotations.append(dict(text="E / V (vs. NHE)", x=px(680), y=py(yc), xref="paper", yref="paper",
                            showarrow=False, font=dict(family=SANS, size=43, color="black"),
                            xanchor="center", yanchor="middle"))

# y axis titles built from pieces (stacked sup/sub)
FS, FSS = 43, 30
for yc in (486, 1430):
    ys = yc + 128
    main_len = 4.778 * FS
    sub_len = 1.223 * FSS
    annotations.append(dict(text="J / (mA cm", x=px(38), y=py(ys - main_len / 2), xref="paper", yref="paper",
                            showarrow=False, textangle=-90, font=dict(family=SANS, size=FS, color="black"),
                            xanchor="center", yanchor="middle"))
    yp = ys - main_len - sub_len / 2 - 1
    annotations.append(dict(text="Pd", x=px(48), y=py(yp), xref="paper", yref="paper",
                            showarrow=False, textangle=-90, font=dict(family=SANS, size=FSS, color="black"),
                            xanchor="center", yanchor="middle"))
    annotations.append(dict(text="-2", x=px(23), y=py(yp), xref="paper", yref="paper",
                            showarrow=False, textangle=-90, font=dict(family=SANS, size=FSS, color="black"),
                            xanchor="center", yanchor="middle"))
    annotations.append(dict(text=")", x=px(38), y=py(ys - main_len - sub_len - 0.333 * FS / 2 - 3),
                            xref="paper", yref="paper", showarrow=False, textangle=-90,
                            font=dict(family=SANS, size=FS, color="black"), xanchor="center", yanchor="middle"))

# manual legends
leg_a_rows = [86, 140, 193, 247]
leg_b_rows = [1124, 1178, 1231, 1284]
for rows, names, x0, x1, xt in ((leg_a_rows, names_a, 490, 587, 602), (leg_b_rows, names_b, 236, 332, 346)):
    for yy, nm, col in zip(rows, names, colors):
        shapes.append(dict(type="line", xref="paper", yref="paper", x0=px(x0), x1=px(x1), y0=py(yy), y1=py(yy),
                           line=dict(color=col, width=3)))
        annotations.append(dict(text=nm, x=px(xt), y=py(yy + 1), xref="paper", yref="paper", showarrow=False,
                                font=dict(family=SANS, size=43, color="black"), xanchor="left",
                                yanchor="middle"))

# peak labels and arrows
for txt, xx, yy, anc in peak_labels:
    annotations.append(dict(text=txt, x=xx, y=yy, xref="x2", yref="y2", showarrow=False,
                            font=dict(family=SANS, size=44, color="black"), xanchor=anc, yanchor="middle"))
for (hx, hy), (tx, ty) in peak_arrows:
    annotations.append(dict(text="", x=hx, y=hy, ax=tx, ay=ty, xref="x2", yref="y2", axref="x2", ayref="y2",
                            showarrow=True, arrowhead=2, arrowsize=2.0, arrowwidth=1.8, arrowcolor="black",
                            standoff=0, startstandoff=0))

fig.update_layout(annotations=annotations, shapes=shapes)
# remove the browser's default 8 px page margin so the 1200x2017 figure fills the window exactly
fig.write_html("out.html",
               config={"displayModeBar": False},
               post_script="document.body.style.margin='0';document.body.style.overflow='hidden';")
